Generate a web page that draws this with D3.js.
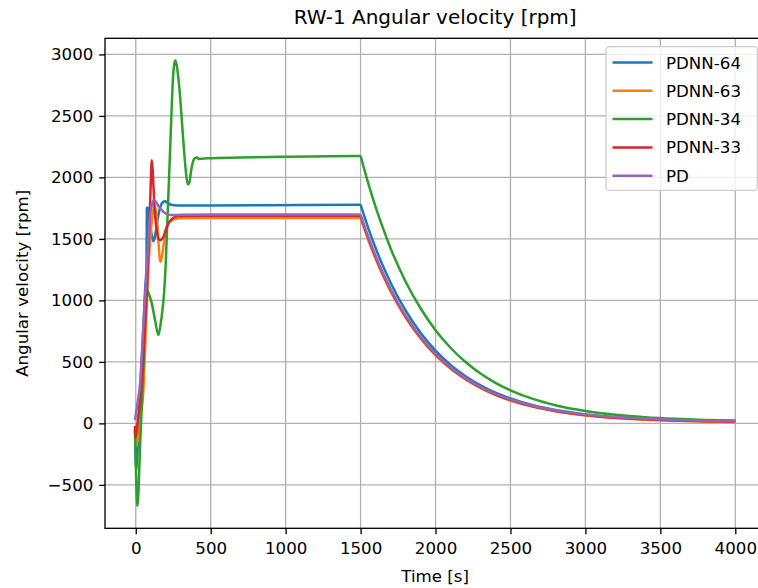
<!DOCTYPE html>
<html>
<head>
<meta charset="utf-8">
<script src="https://cdn.jsdelivr.net/npm/d3@7"></script>
<style>
  html, body { margin: 0; padding: 0; background: #ffffff; }
  svg { display: block; }
  text { font-family: "DejaVu Sans", sans-serif; fill: #000; }
</style>
</head>
<body>
<svg id="chart" width="758" height="588"></svg>
<script>
// ---------- data ----------
const chartTitle = "RW-1 Angular velocity [rpm]";
const xLabel = "Time [s]";
const yLabel = "Angular velocity [rpm]";
const seriesNames = ["PDNN-64", "PDNN-63", "PDNN-34", "PDNN-33", "PD"];
const xTicks = [0, 500, 1000, 1500, 2000, 2500, 3000, 3500, 4000];
const yTicks = [-500, 0, 500, 1000, 1500, 2000, 2500, 3000];

// transient + plateau phase (per series)
const t64 = [-5, 3, 8, 20, 35, 50, 62, 72, 74, 80, 88, 98, 108, 118, 128, 140, 152, 164, 174, 186, 196, 210, 230, 260, 300, 500, 800, 1100, 1500];
const v64 = [-60, -380, -300, 0, 380, 760, 1080, 1300, 1752, 1755, 1700, 1600, 1520, 1480, 1520, 1610, 1700, 1760, 1788, 1803, 1807, 1795, 1780, 1773, 1771, 1772, 1774, 1776, 1778];

const t63 = [-5, 3, 15, 30, 51, 70, 84, 100, 115, 127, 140, 152, 160, 166, 175, 188, 200, 215, 240, 270, 320, 500, 1500];
const v63 = [-60, -190, -120, 40, 272, 850, 1250, 1550, 1720, 1760, 1680, 1460, 1340, 1314, 1360, 1470, 1570, 1625, 1652, 1664, 1669, 1670, 1670];

const t34 = [-5, 11, 30, 51, 73, 85, 107, 130, 151, 165, 178, 190, 200, 210, 220, 230, 240, 250, 258, 264, 272, 285, 296, 310, 322, 335, 347, 358, 370, 385, 400, 410, 420, 435, 480, 700, 1000, 1300, 1500];
const v34 = [-30, -672, -150, 470, 1090, 1060, 976, 830, 718, 800, 920, 1080, 1300, 1620, 1930, 2250, 2580, 2840, 2930, 2950, 2920, 2800, 2654, 2420, 2221, 2040, 1942, 1960, 2060, 2140, 2160, 2162, 2150, 2152, 2156, 2162, 2168, 2172, 2175];

const t33 = [-5, -2, 15, 36, 60, 80, 92, 100, 107, 114, 122, 132, 142, 152, 162, 172, 185, 200, 218, 240, 262, 300, 400, 1500];
const v33 = [-20, -118, 40, 272, 760, 1250, 1650, 1950, 2140, 2030, 1830, 1650, 1550, 1500, 1490, 1495, 1517, 1570, 1625, 1660, 1679, 1686, 1688, 1688];

const tPD = [-5, 10, 29, 50, 73, 85, 95, 108, 120, 132, 150, 174, 195, 218, 250, 300, 500, 1500];
const vPD = [28, 150, 330, 780, 1246, 1500, 1679, 1780, 1815, 1805, 1770, 1734, 1710, 1697, 1694, 1696, 1698, 1698];

// decay phase after t = 1500 s
const tailT  = [1550, 1600, 1650, 1700, 1800, 1900, 2000, 2100, 2200, 2300, 2400, 2500, 2650, 2800, 3000, 3200, 3400, 3600, 3800, 4000];
const tail64 = [1592, 1426, 1277, 1144, 918, 737, 592, 476, 383, 309, 249, 202, 147, 108, 73, 50, 36, 27, 21, 17];
const tail63 = [1495, 1338, 1198, 1073, 860, 690, 554, 445, 357, 287, 231, 186, 135, 99, 65, 44, 30, 22, 16, 12];
const tail34 = [1957, 1760, 1585, 1424, 1154, 936, 758, 615, 499, 406, 330, 269, 199, 148, 101, 70, 50, 37, 28, 23];
const tail33 = [1511, 1353, 1212, 1085, 870, 699, 561, 451, 363, 292, 235, 190, 138, 101, 68, 46, 33, 24, 18, 15];
const tailPD = [1521, 1362, 1220, 1093, 878, 705, 567, 456, 368, 297, 240, 195, 143, 106, 72, 51, 37, 28, 22, 19];

const colors = ["#1f77b4", "#ff7f0e", "#2ca02c", "#d62728", "#9467bd"];

// ---------- build series (head: up to 1500 s, tail: from 1500 s on) ----------
function build(ts, vs, tail) {
  const head = ts.map((t, i) => ({ t, v: vs[i] }));
  const knee = head[head.length - 1];
  const rest = [knee].concat(tailT.map((t, i) => ({ t, v: tail[i] })));
  return { head, rest };
}
const series = [
  build(t64, v64, tail64),
  build(t63, v63, tail63),
  build(t34, v34, tail34),
  build(t33, v33, tail33),
  build(tPD, vPD, tailPD)
];

// ---------- layout ----------
const svg = d3.select("#chart");
const L = 105, T = 38.3, R = 765.3, B = 528.3;
const FS = 16.67;

const all = series.flatMap(s => s.head.concat(s.rest));
const [tMin, tMax] = d3.extent(all, d => d.t);
const [vMin, vMax] = d3.extent(all, d => d.v);
const tPad = 0.05 * (tMax - tMin), vPad = 0.05 * (vMax - vMin);

const x = d3.scaleLinear().domain([tMin - tPad, tMax + tPad]).range([L, R]);
const y = d3.scaleLinear().domain([vMin - vPad, vMax + vPad]).range([B, T]);

svg.append("rect").attr("width", 758).attr("height", 588).attr("fill", "#fff");

svg.append("defs").append("clipPath").attr("id", "clip")
  .append("rect").attr("x", L).attr("y", T).attr("width", R - L).attr("height", B - T);

// grid
const grid = svg.append("g");
grid.selectAll("line.gx").data(xTicks).join("line")
  .attr("x1", d => x(d)).attr("x2", d => x(d)).attr("y1", T).attr("y2", B)
  .attr("stroke", "#b0b0b0").attr("stroke-width", 1.33);
grid.selectAll("line.gy").data(yTicks).join("line")
  .attr("x1", L).attr("x2", R).attr("y1", d => y(d)).attr("y2", d => y(d))
  .attr("stroke", "#b0b0b0").attr("stroke-width", 1.33);

// lines
const line = d3.line().x(d => x(d.t)).y(d => y(d.v)).curve(d3.curveMonotoneX);
const lines = svg.append("g").attr("clip-path", "url(#clip)");
series.forEach((s, i) => {
  const g = lines.append("g");
  [s.head, s.rest].forEach(part => {
    g.append("path").attr("d", line(part)).attr("fill", "none")
      .attr("stroke", colors[i]).attr("stroke-width", 2.5)
      .attr("stroke-linejoin", "round").attr("stroke-linecap", "butt");
  });
});

// axes
const fmt = d3.format("d");
const xAxis = svg.append("g").attr("transform", `translate(0,${B})`)
  .call(d3.axisBottom(x).tickValues(xTicks).tickFormat(fmt).tickSize(5.83).tickPadding(5.83));
const yAxis = svg.append("g").attr("transform", `translate(${L},0)`)
  .call(d3.axisLeft(y).tickValues(yTicks).tickFormat(fmt).tickSize(5.83).tickPadding(5.83));
[xAxis, yAxis].forEach(a => {
  a.select(".domain").remove();
  a.selectAll(".tick line").attr("stroke", "#000").attr("stroke-width", 1.33);
  a.selectAll(".tick text").attr("font-size", FS).attr("font-family", "DejaVu Sans").attr("fill", "#000");
});
xAxis.selectAll(".tick text").attr("dy", "0.86em");

// frame
svg.append("rect").attr("x", L).attr("y", T).attr("width", R - L).attr("height", B - T)
  .attr("fill", "none").attr("stroke", "#000").attr("stroke-width", 1.33);

// title & labels
svg.append("text").attr("x", (L + R) / 2).attr("y", 23.5).attr("text-anchor", "middle")
  .attr("font-size", 20).text(chartTitle);
svg.append("text").attr("x", (L + R) / 2).attr("y", 582).attr("text-anchor", "middle")
  .attr("font-size", FS).text(xLabel);
svg.append("text").attr("transform", `translate(28,${(T + B) / 2}) rotate(-90)`)
  .attr("text-anchor", "middle").attr("font-size", FS).text(yLabel);

// legend
const lg = svg.append("g");
const lgX = 606, lgY = 46.6, lgW = 151.4, lgH = 143.7;
lg.append("rect").attr("x", lgX).attr("y", lgY).attr("width", lgW).attr("height", lgH)
  .attr("rx", 3.5).attr("ry", 3.5)
  .attr("fill", "#fff").attr("fill-opacity", 0.8).attr("stroke", "#cccccc").attr("stroke-width", 1.33);
seriesNames.forEach((name, i) => {
  const cy = 62.5 + i * 28.3;
  lg.append("line").attr("x1", 612.5).attr("x2", 652.5).attr("y1", cy).attr("y2", cy)
    .attr("stroke", colors[i]).attr("stroke-width", 2.5);
  lg.append("text").attr("x", 666).attr("y", cy + 6).attr("font-size", FS).text(name);
});
</script>
</body>
</html>
